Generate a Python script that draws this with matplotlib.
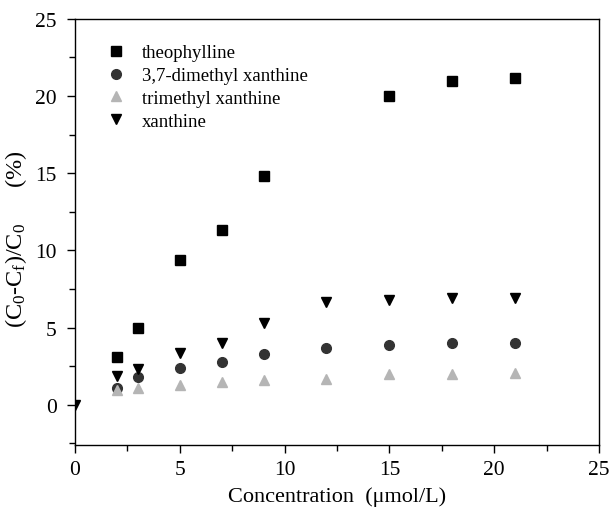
import matplotlib
matplotlib.use("Agg")
import matplotlib.pyplot as plt
from matplotlib.ticker import MultipleLocator

plt.rcParams['font.family'] = ['Liberation Serif', 'DejaVu Serif']
plt.rcParams['mathtext.fontset'] = 'custom'
plt.rcParams['mathtext.rm'] = 'Liberation Serif'
plt.rcParams['mathtext.it'] = 'Liberation Serif'

x_theo = [2, 3, 5, 7, 9, 15, 18, 21]
y_theo = [3.1, 5.0, 9.4, 11.35, 14.8, 20.0, 21.0, 21.2]

x_all = [2, 3, 5, 7, 9, 12, 15, 18, 21]
y_dimethyl = [1.1, 1.8, 2.4, 2.8, 3.3, 3.7, 3.9, 4.0, 4.0]
y_trimethyl = [0.95, 1.08, 1.3, 1.47, 1.58, 1.68, 1.99, 1.99, 2.09]

x_xan = [0, 2, 3, 5, 7, 9, 12, 15, 18, 21]
y_xanthine = [0, 1.85, 2.35, 3.35, 4.0, 5.3, 6.65, 6.82, 6.95, 6.95]

labels = ["theophylline", "3,7-dimethyl xanthine", "trimethyl xanthine", "xanthine"]

fig = plt.figure(figsize=(6.09, 5.10), dpi=100)
ax = fig.add_axes([0.123, 0.1255, 0.8606, 0.8355])

ax.plot(x_theo, y_theo, 's', color='black', ms=6.5, ls='none', label=labels[0])
ax.plot(x_all, y_dimethyl, 'o', color='#333333', ms=7, ls='none', label=labels[1])
ax.plot(x_all, y_trimethyl, '^', color='#b5b5b5', ms=7.5, ls='none', label=labels[2])
ax.plot(x_xan, y_xanthine, 'v', color='black', ms=7.5, ls='none', label=labels[3])

ax.set_xlim(0, 25)
ax.set_ylim(-2.6, 25)
ax.xaxis.set_major_locator(MultipleLocator(5))
ax.xaxis.set_minor_locator(MultipleLocator(2.5))
ax.yaxis.set_major_locator(MultipleLocator(5))
ax.yaxis.set_minor_locator(MultipleLocator(2.5))
ax.tick_params(which='major', direction='out', length=6, width=1, labelsize=15.5)
ax.tick_params(axis='y', which='major', pad=7)
ax.tick_params(axis='x', which='major', pad=5)
ax.tick_params(which='minor', direction='out', length=4, width=1)
for s in ax.spines.values():
    s.set_linewidth(1)

ax.set_xlabel("Concentration  (\u03bcmol/L)", fontsize=16, labelpad=5)
ax.set_ylabel("(C$_0$-C$_f$)/C$_0$      (%)", fontsize=17.5, labelpad=6)
ax.yaxis.set_label_coords(-0.087, 0.485)

ax.legend(loc='upper left', bbox_to_anchor=(0.02, 0.98), frameon=False,
          fontsize=13.5, handletextpad=0.6, labelspacing=0.3, handlelength=1.5)

fig.savefig("out.png", dpi=100)
